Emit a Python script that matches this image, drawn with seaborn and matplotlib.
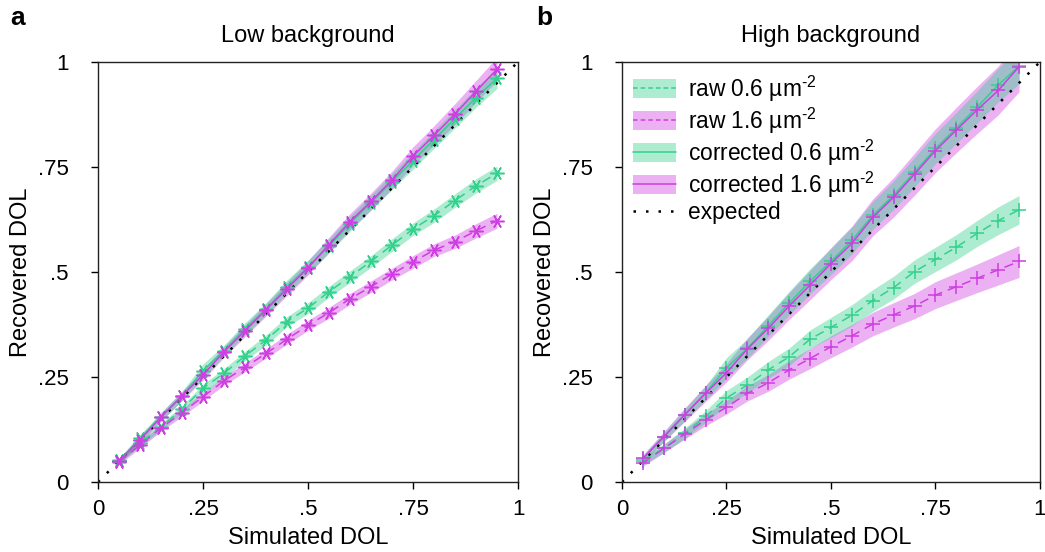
import numpy as np
import seaborn as sns
import matplotlib.pyplot as plt
from matplotlib.patches import Patch
from matplotlib.lines import Line2D

# simulated degree of labelling
dol = [0.05, 0.10, 0.15, 0.20, 0.25, 0.30, 0.35, 0.40, 0.45, 0.50,
       0.55, 0.60, 0.65, 0.70, 0.75, 0.80, 0.85, 0.90, 0.95]

# Low background panel
low_raw_06 = [0.052, 0.092, 0.132, 0.173, 0.223, 0.259, 0.300, 0.338, 0.382, 0.414,
              0.453, 0.489, 0.525, 0.564, 0.602, 0.634, 0.670, 0.705, 0.735]
low_raw_16 = [0.048, 0.088, 0.129, 0.165, 0.203, 0.241, 0.273, 0.306, 0.340, 0.373,
              0.403, 0.436, 0.465, 0.495, 0.524, 0.552, 0.572, 0.598, 0.622]
low_cor_06 = [0.050, 0.105, 0.155, 0.205, 0.265, 0.313, 0.365, 0.412, 0.465, 0.512,
              0.562, 0.615, 0.665, 0.715, 0.765, 0.815, 0.865, 0.915, 0.961]
low_cor_16 = [0.050, 0.100, 0.155, 0.205, 0.255, 0.310, 0.360, 0.410, 0.460, 0.510,
              0.565, 0.620, 0.668, 0.719, 0.776, 0.825, 0.876, 0.930, 0.983]
low_raw_06_err = [0.006, 0.007, 0.008, 0.009, 0.010, 0.011, 0.011, 0.012, 0.012, 0.013,
                  0.013, 0.014, 0.014, 0.015, 0.015, 0.016, 0.016, 0.017, 0.017]
low_raw_16_err = [0.006, 0.007, 0.008, 0.009, 0.010, 0.010, 0.011, 0.011, 0.012, 0.012,
                  0.013, 0.013, 0.014, 0.014, 0.015, 0.015, 0.016, 0.017, 0.018]
low_cor_06_err = [0.007, 0.008, 0.010, 0.011, 0.016, 0.013, 0.014, 0.015, 0.016, 0.016,
                  0.017, 0.018, 0.018, 0.019, 0.020, 0.021, 0.022, 0.023, 0.024]
low_cor_16_err = [0.007, 0.008, 0.010, 0.011, 0.012, 0.013, 0.014, 0.015, 0.016, 0.017,
                  0.018, 0.019, 0.020, 0.021, 0.022, 0.023, 0.025, 0.026, 0.028]

# High background panel
high_raw_06 = [0.049, 0.080, 0.116, 0.156, 0.200, 0.231, 0.267, 0.298, 0.340, 0.368,
               0.397, 0.432, 0.463, 0.501, 0.530, 0.559, 0.592, 0.622, 0.648]
high_raw_16 = [0.045, 0.080, 0.114, 0.148, 0.178, 0.211, 0.236, 0.267, 0.294, 0.322,
               0.348, 0.376, 0.398, 0.419, 0.445, 0.465, 0.485, 0.505, 0.525]
high_cor_06 = [0.055, 0.107, 0.160, 0.212, 0.272, 0.318, 0.372, 0.426, 0.478, 0.525,
               0.575, 0.635, 0.683, 0.738, 0.794, 0.843, 0.893, 0.945, 0.990]
high_cor_16 = [0.056, 0.108, 0.160, 0.211, 0.260, 0.317, 0.366, 0.419, 0.469, 0.520,
               0.568, 0.630, 0.678, 0.733, 0.789, 0.838, 0.886, 0.932, 0.989]
high_raw_06_err = [0.008, 0.010, 0.012, 0.014, 0.018, 0.019, 0.020, 0.021, 0.022, 0.024,
                   0.025, 0.026, 0.027, 0.028, 0.029, 0.030, 0.031, 0.033, 0.034]
high_raw_16_err = [0.008, 0.010, 0.012, 0.014, 0.016, 0.018, 0.020, 0.022, 0.024, 0.026,
                   0.027, 0.028, 0.029, 0.030, 0.032, 0.033, 0.034, 0.036, 0.038]
high_cor_06_err = [0.008, 0.011, 0.014, 0.017, 0.024, 0.023, 0.026, 0.028, 0.030, 0.031,
                   0.032, 0.033, 0.034, 0.035, 0.036, 0.037, 0.038, 0.040, 0.042]
high_cor_16_err = [0.009, 0.012, 0.016, 0.019, 0.022, 0.026, 0.029, 0.032, 0.035, 0.038,
                   0.041, 0.044, 0.047, 0.050, 0.052, 0.054, 0.056, 0.058, 0.060]

expected = [0, 1]
tick_vals = [0, 0.25, 0.5, 0.75, 1]
tick_labels = ['0', '.25', '.5', '.75', '1']
labels = ['raw 0.6 µm$^{\\text{-2}}$', 'raw 1.6 µm$^{\\text{-2}}$',
          'corrected 0.6 µm$^{\\text{-2}}$', 'corrected 1.6 µm$^{\\text{-2}}$', 'expected']

GREEN = '#33d08e'
MAGENTA = '#cf3ee2'
ALPHA = 0.4

sns.set_style('ticks')
plt.rcParams['font.family'] = ['Liberation Sans', 'DejaVu Sans']
plt.rcParams['mathtext.fontset'] = 'custom'
plt.rcParams['mathtext.rm'] = 'Liberation Sans'
plt.rcParams['mathtext.default'] = 'regular'
plt.rcParams['axes.linewidth'] = 1.0
plt.rcParams['text.color'] = 'black'
plt.rcParams['axes.labelcolor'] = 'black'
plt.rcParams['xtick.color'] = 'black'
plt.rcParams['ytick.color'] = 'black'
plt.rcParams['axes.edgecolor'] = '#222222'

fig = plt.figure(figsize=(10.45, 5.52), dpi=100)
ax_a = fig.add_axes([0.0938, 0.1268, 0.4019, 0.761])
ax_b = fig.add_axes([0.5952, 0.1268, 0.4000, 0.761])


def draw_panel(ax, raw06, raw16, cor06, cor16, e_r06, e_r16, e_c06, e_c16, marker):
    x = np.array(dol)
    bands = [(raw16, e_r16, MAGENTA), (raw06, e_r06, GREEN),
             (cor16, e_c16, MAGENTA), (cor06, e_c06, GREEN)]
    for y, e, c in bands:
        y = np.array(y)
        e = np.array(e)
        ax.fill_between(x, y - e, y + e, color=c, alpha=ALPHA, lw=0)
    sns.lineplot(x=expected, y=expected, ax=ax, color='black', ls=(0, (1, 4)), lw=1.8)
    for y, c, ls in [(raw06, GREEN, (0, (6, 4))), (raw16, MAGENTA, (0, (6, 4))),
                     (cor06, GREEN, '-'), (cor16, MAGENTA, '-')]:
        sns.lineplot(x=dol, y=y, ax=ax, color=c, ls=ls, lw=1.1, marker=marker,
                     markersize=10, markeredgewidth=1.1, markeredgecolor=c)
    ax.set_xlim(0, 1)
    ax.set_ylim(0, 1)
    ax.set_xticks(tick_vals)
    ax.set_xticklabels(tick_labels)
    ax.set_yticks(tick_vals)
    ax.set_yticklabels(tick_labels)
    ax.tick_params(labelsize=16, direction='out', length=5, width=1)
    ax.tick_params(axis='y', pad=16)
    ax.tick_params(axis='x', pad=7)
    ax.set_xlabel('Simulated DOL', fontsize=17, labelpad=5)
    ax.set_ylabel('Recovered DOL', fontsize=17, labelpad=4)
    for s in ax.spines.values():
        s.set_visible(True)


draw_panel(ax_a, low_raw_06, low_raw_16, low_cor_06, low_cor_16,
           low_raw_06_err, low_raw_16_err, low_cor_06_err, low_cor_16_err, (6, 2, 30))
draw_panel(ax_b, high_raw_06, high_raw_16, high_cor_06, high_cor_16,
           high_raw_06_err, high_raw_16_err, high_cor_06_err, high_cor_16_err, '+')

ax_a.set_title('Low background', fontsize=17, pad=14)
ax_b.set_title('High background', fontsize=17, pad=14)
fig.text(0.010, 0.955, 'a', fontsize=19, fontweight='bold')
fig.text(0.513, 0.955, 'b', fontsize=19, fontweight='bold')

# legend: band + line as one handle
handles = []
for c, ls in [(GREEN, (0, (3, 2))), (MAGENTA, (0, (3, 2))), (GREEN, '-'), (MAGENTA, '-')]:
    handles.append((Patch(facecolor=c, alpha=ALPHA, lw=0), Line2D([], [], color=c, ls=ls, lw=1.1)))
handles.append(Line2D([], [], color='black', ls=(0, (1, 4)), lw=1.8))
ax_b.legend(handles, labels, loc='upper left', frameon=False, fontsize=16.4,
            handlelength=1.85, handleheight=0.9, labelspacing=0.08,
            borderaxespad=0.2, borderpad=0.3, handletextpad=0.55)

fig.savefig('out.png', dpi=100)
